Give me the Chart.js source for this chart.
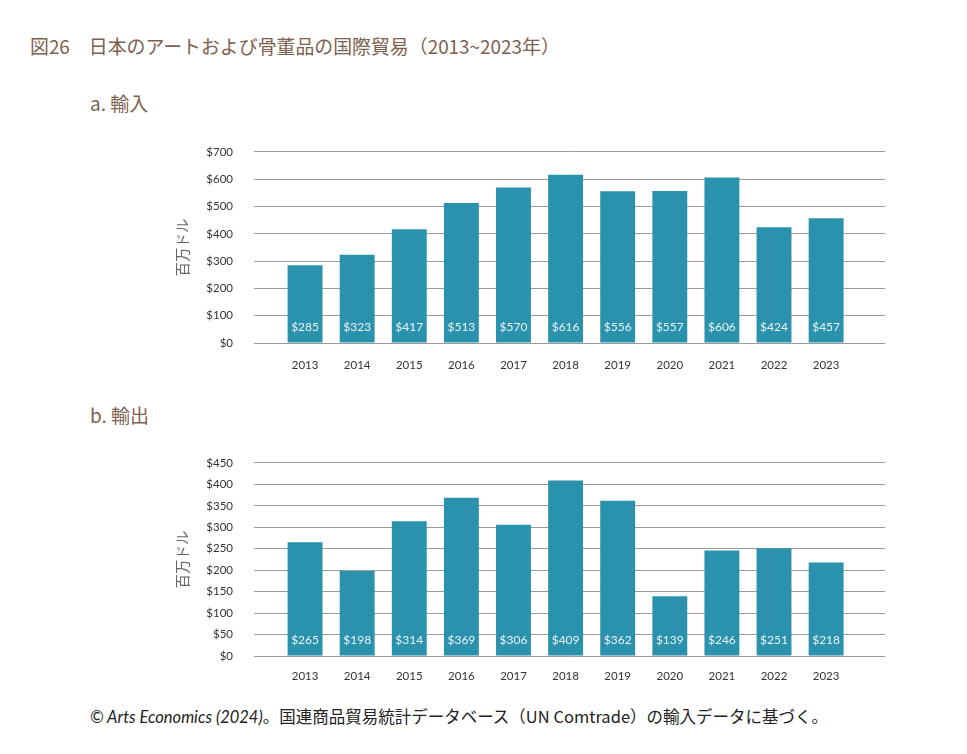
<!DOCTYPE html>
<html lang="ja">
<head>
<meta charset="utf-8">
<script src="https://cdn.jsdelivr.net/npm/chart.js@4"></script>
<style>
  body { margin: 0; background: #fff; width: 967px; height: 754px; position: relative; overflow: hidden;
         font-family: "Noto Sans CJK JP", "Noto Sans", sans-serif; }
  .title { position: absolute; left: 30px; top: 32px; font-size: 18.9px; color: #7d604d; }
  .sub { position: absolute; left: 90px; font-size: 19px; color: #7d604d; }
  .foot { position: absolute; left: 90px; top: 704px; font-size: 16.5px; color: #222; }
  .foot i { font-family: "Lato", "Noto Sans", sans-serif; }
  canvas { position: absolute; left: 170px; }
</style>
</head>
<body>
<div class="title">図26　日本のアートおよび骨董品の国際貿易（2013~2023年）</div>
<div class="sub" style="top:89px">a. 輸入</div>
<div class="sub" style="top:401px">b. 輸出</div>
<canvas id="importChart" width="730" height="256" style="top:124px"></canvas>
<canvas id="exportChart" width="730" height="258" style="top:435px"></canvas>
<div class="foot"><i>© Arts Economics (2024)</i>。国連商品貿易統計データベース（UN Comtrade）の輸入データに基づく。</div>

<script>
// Data
const years = ['2013', '2014', '2015', '2016', '2017', '2018', '2019', '2020', '2021', '2022', '2023'];
const imports = [285, 323, 417, 513, 570, 616, 556, 557, 606, 424, 457];
const exports = [265, 198, 314, 369, 306, 409, 362, 139, 246, 251, 218];
const importTicks = { max: 700, step: 100 };
const exportTicks = { max: 450, step: 50 };

const barColor = '#2b92ae';
const labelFont = '"Lato", "Noto Sans", sans-serif';

// white value labels near the bottom of each bar
const valueLabels = {
    id: 'valueLabels',
    afterDatasetsDraw(chart) {
        const ctx = chart.ctx;
        const base = chart.scales.y.getPixelForValue(0);
        ctx.save();
        ctx.fillStyle = '#e9f3f6';
        ctx.font = '12px ' + labelFont;
        ctx.textAlign = 'center';
        ctx.textBaseline = 'middle';
        chart.getDatasetMeta(0).data.forEach((bar, i) => {
            const v = chart.data.datasets[0].data[i].y;
            ctx.fillText('$' + v, bar.x, base - 16);
        });
        ctx.restore();
    }
};

function makeChart(id, values, ticks, tickPad) {
    const ctx = document.getElementById(id).getContext('2d');
    return new Chart(ctx, {
        type: 'bar',
        data: {
            datasets: [{
                data: values.map((v, i) => ({ x: i, y: v })),
                backgroundColor: barColor,
                categoryPercentage: 1,
                barPercentage: 0.67
            }]
        },
        options: {
            responsive: false,
            animation: false,
            layout: { padding: { top: 0, right: 15, left: 0, bottom: 0 } },
            plugins: { legend: { display: false }, tooltip: { enabled: false } },
            scales: {
                x: {
                    type: 'linear',
                    offset: false,
                    min: -0.98,
                    max: 11.13,
                    grid: { display: false, drawTicks: false },
                    border: { display: false },
                    afterBuildTicks: axis => { axis.ticks = years.map((_, i) => ({ value: i })); },
                    afterFit: scale => { scale.height = 37; },
                    ticks: {
                        callback: v => years[v],
                        color: '#333',
                        font: { size: 11.5, family: labelFont },
                        padding: tickPad,
                        maxRotation: 0,
                        autoSkip: false
                    }
                },
                y: {
                    min: 0,
                    max: ticks.max,
                    grid: { color: '#9a9a9a', drawTicks: false, lineWidth: 1 },
                    border: { display: false },
                    afterFit: scale => { scale.width = 84; },
                    ticks: {
                        stepSize: ticks.step,
                        callback: v => '$' + v,
                        color: '#333',
                        font: { size: 11.5, family: labelFont },
                        padding: 21
                    },
                    title: {
                        display: true,
                        text: '百万ドル',
                        color: '#666',
                        font: { size: 14.5, family: '"Noto Sans CJK JP", sans-serif' },
                        padding: { top: 4, bottom: 0 }
                    }
                }
            }
        },
        plugins: [valueLabels]
    });
}

makeChart('importChart', imports, importTicks, 15);
makeChart('exportChart', exports, exportTicks, 13);
</script>
</body>
</html>
